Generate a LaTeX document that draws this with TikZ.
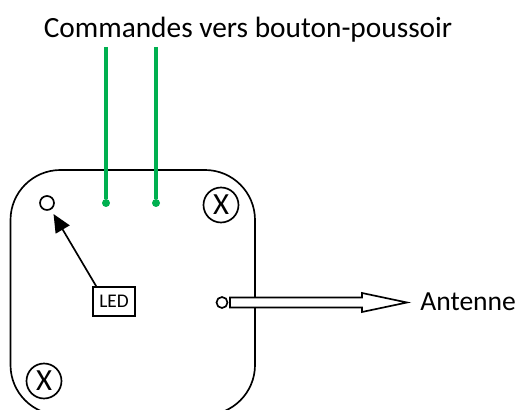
\documentclass[tikz,border=0pt]{standalone}
\usepackage{fontspec}
\setmainfont{Carlito}
\usetikzlibrary{arrows.meta}
\tikzset{
  trou/.style={circle,draw,fill=white,inner sep=0pt,line width=0.95pt},
  vis/.style={trou,minimum size=0.7cm,font=\fontsize{17.5}{20}\selectfont},
  fil/.style={draw=vert,line width=2.3pt},
  plot/.style={circle,fill=vert,inner sep=0pt,minimum size=0.16cm}
}
\definecolor{vert}{RGB}{0,176,80}
\begin{document}
\begin{tikzpicture}
\useasboundingbox (0,0) rectangle (10.42,8.2);
\clip (0,0) rectangle (10.42,8.2);
% boitier
\draw[line width=0.95pt,rounded corners=1cm] (0.21,-0.1) rectangle (5.1,4.8);

% commandes
\coordinate (hautA) at (2.12,7.26);
\coordinate (hautB) at (3.12,7.26);
\node[plot] (plotA) at (2.12,4.14) {};
\node[plot] (plotB) at (3.12,4.14) {};
\draw[fil] (hautA) -- (plotA);
\draw[fil] (hautB) -- (plotB);
\node[font=\fontsize{16.7}{20}\selectfont] (titre) at (4.96,7.6) {Commandes vers bouton-poussoir};

% vis
\node[vis] (visA) at (4.42,4.1) {X};
\node[vis] (visB) at (0.88,0.58) {X};

% led
\node[trou,minimum size=0.28cm] (trouled) at (0.94,4.14) {};
\node[draw,fill=white,line width=0.95pt,minimum width=0.84cm,minimum height=0.58cm,inner sep=0pt,font=\fontsize{11}{13}\selectfont] (led) at (2.28,2.17) {LED};
\draw[-{Triangle[length=0.36cm,width=0.32cm]},line width=0.95pt,shorten >=0.1cm] (led.north west) ++(0.08,0) -- (trouled);

% antenne
\node[trou,minimum size=0.22cm] (trouant) at (4.44,2.15) {};
\draw[fill=white,line width=0.95pt] (4.6,2.05) -- (7.24,2.05) -- (7.24,1.96) -- (8.14,2.15) -- (7.24,2.34) -- (7.24,2.25) -- (4.6,2.25) -- cycle;
\node[anchor=west,inner sep=0pt,font=\fontsize{15.7}{20}\selectfont] (antenne) at (8.4,2.17) {Antenne};
\end{tikzpicture}
\end{document}
